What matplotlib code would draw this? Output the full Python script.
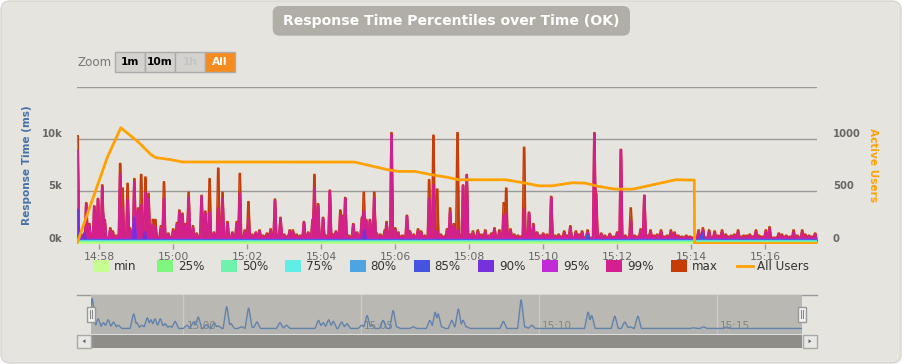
from datetime import datetime

import numpy as np
import matplotlib
matplotlib.use("Agg")
from matplotlib import pyplot as plt
import matplotlib.dates as mdates
from matplotlib.patches import Rectangle, FancyBboxPatch, Polygon
from matplotlib.transforms import blended_transform_factory, ScaledTranslation

# ---- data (seconds after 14:57:24, response times in ms) ----
start_time = datetime(2024, 1, 1, 14, 57, 24)
duration = 1200

series_names = ["min", "25%", "50%", "75%", "80%", "85%", "90%", "95%", "99%", "max"]
series_colors = ["#c4fd90", "#7ff77f", "#6ff2ad", "#61ede6", "#4ea3e3",
                 "#4254e0", "#7531dc", "#c22ad5", "#d41f8e", "#c53c06"]

spike_sec = [1, 15, 20, 28, 34, 41, 45, 54, 58, 70, 74, 82, 86, 93, 99, 104, 111, 116,
             123, 127, 136, 141, 148, 156, 162, 166, 171, 176, 181, 188, 194, 202, 208,
             215, 222, 229, 236, 244, 252, 259, 264, 272, 278, 290, 296, 314, 321, 330,
             345, 350, 368, 375, 382, 385, 391, 399, 410, 420, 427, 430, 435, 448, 454,
             462, 465, 469, 475, 482, 486, 499, 502, 510, 516, 521, 535, 540, 553, 558,
             571, 578, 584, 600, 605, 611, 617, 626, 632, 642, 650, 662, 677, 685, 692,
             696, 703, 725, 733, 740, 746, 756, 769, 790, 800, 809, 819, 828, 839, 842,
             850, 864, 876, 882, 889, 898, 914, 920, 930, 947, 963, 969, 1008, 1015,
             1025, 1034, 1046, 1061, 1072, 1086, 1101, 1117, 1123, 1138, 1150, 1162,
             1176, 1187, 1197]
spike_max = [10300, 3900, 1900, 3600, 4300, 5600, 2300, 1500, 1200, 7650, 5300, 5750,
             1500, 6200, 3400, 6600, 6350, 4800, 2300, 2300, 1700, 5900, 1000, 1400, 2000,
             3200, 2900, 1900, 4900, 1700, 1000, 4600, 3100, 6200, 1100, 7200, 4900, 2100,
             1100, 2100, 6700, 1300, 4000, 1100, 1300, 1400, 4250, 2500, 1300, 1300, 2100,
             1100, 2300, 6600, 3800, 2500, 5100, 1200, 3200, 2700, 4400, 1900, 1100, 2500,
             4900, 2300, 2300, 4900, 1000, 1300, 2100, 10600, 1500, 1100, 2700, 1200, 1400,
             1200, 6100, 10350, 5200, 1400, 3400, 1900, 10600, 5600, 6600, 1200, 1300,
             1300, 1500, 1300, 3900, 5300, 1400, 9200, 3000, 1900, 1100, 1000, 4500, 1200,
             1700, 1200, 1200, 1300, 10600, 4800, 1000, 960, 1100, 9000, 800, 3400, 1400,
             4600, 1300, 1300, 1300, 1100, 1300, 1500, 1300, 1200, 1300, 800, 1300, 800,
             1300, 1300, 1600, 1000, 800, 1300, 1300, 800, 1000]
spike_p99 = [8900, 3700, 1700, 3500, 4200, 5400, 2100, 1300, 1000, 6600, 3400, 4200,
             1300, 5900, 3200, 3700, 4900, 4300, 1800, 1600, 1400, 4300, 900, 1200, 1800,
             3000, 2700, 1700, 4400, 1500, 900, 4500, 2900, 3000, 1000, 3400, 4300, 1900,
             1000, 1900, 4800, 1100, 2300, 1000, 1200, 1200, 4100, 2400, 1200, 1100, 2000,
             1000, 2200, 5300, 3600, 2400, 5000, 1100, 2700, 2600, 4300, 1800, 1000, 2300,
             3100, 2200, 2200, 4300, 900, 1100, 1900, 10400, 1300, 1000, 2600, 1000, 1200,
             1000, 4300, 5600, 1200, 1200, 3000, 1700, 1300, 5500, 6500, 1000, 1100,
             1100, 1400, 1100, 2700, 2900, 1200, 3300, 2900, 1700, 1000, 900, 4400, 1000,
             1500, 1000, 1000, 1100, 10500, 3300, 900, 850, 1000, 8950, 700, 2200, 1200,
             4600, 1100, 1100, 1100, 1000, 1100, 1300, 1100, 1000, 1100, 700, 1100, 700,
             1100, 1100, 1400, 900, 700, 1100, 1100, 700, 900]

# small bumps along the bottom band
small_sec = [7, 64, 284, 302, 308, 326, 336, 340, 356, 362, 404, 415, 441, 458, 492, 528,
             546, 564, 590, 595, 621, 637, 646, 656, 668, 672, 709, 715, 720, 751, 762, 775,
             781, 786, 795, 814, 856, 870, 904, 909, 925, 936, 941, 952, 957, 975, 981, 988,
             994, 1040, 1052, 1056, 1066, 1078, 1081, 1091, 1096, 1106, 1111, 1143, 1156,
             1168, 1181, 1192]
small_max = [900, 800, 900, 800, 1000, 800, 900, 700, 900, 800, 800, 900, 800, 800, 900, 800,
             900, 800, 900, 700, 800, 900, 700, 900, 800, 1000, 900, 800, 700, 800, 900, 800,
             900, 700, 800, 900, 800, 700, 800, 700, 800, 800, 900, 700, 800, 800, 700, 800,
             700, 800, 900, 700, 900, 700, 800, 900, 700, 800, 700, 900, 700, 800, 900, 700]
small_p99 = [750, 650, 750, 650, 850, 650, 750, 600, 750, 650, 650, 750, 650, 650, 750, 650,
             750, 650, 750, 600, 650, 750, 600, 750, 650, 850, 750, 650, 600, 650, 750, 650,
             750, 600, 650, 750, 650, 600, 650, 600, 650, 650, 750, 600, 650, 650, 600, 650,
             600, 650, 750, 600, 750, 600, 650, 750, 600, 650, 600, 750, 600, 650, 750, 600]
max_base, p99_base = 600, 520

p95_base, p95_sec, p95_val = 420, [1, 93], [3300, 2600]
p90_base = 380
p90_sec = [1, 12, 93, 110, 466, 1014]
p90_val = [3200, 1000, 2500, 1100, 1300, 1000]
p85_base, p85_sec, p85_val = 330, [1, 828, 1014], [800, 800, 900]
low_levels = {"80%": 290, "75%": 240, "50%": 170, "25%": 130, "min": 60}

users_sec = [0, 49, 71, 98, 120, 128, 152, 171, 450, 504, 521, 548, 575, 602, 619, 695,
             727, 749, 770, 803, 824, 846, 873, 901, 971, 1001, 1001.5, 1200]
users = [0, 820, 1106, 977, 849, 820, 801, 779, 778, 705, 689, 689, 657, 631, 609, 609,
         577, 551, 551, 580, 577, 545, 519, 519, 609, 606, 0, 0]

nav_base = 200
nav_sec = [2, 12, 21, 29, 38, 46, 72, 77, 86, 95, 101, 108, 117, 125, 133, 142, 162, 173,
           181, 195, 208, 215, 229, 236, 254, 266, 271, 280, 319, 330, 384, 392, 401, 409,
           423, 432, 457, 466, 474, 493, 510, 516, 544, 572, 581, 586, 592, 609, 620, 628,
           634, 696, 726, 733, 744, 839, 845, 884, 901, 910, 923, 1017, 1034, 1073]
nav_val = [1272, 548, 408, 513, 432, 315, 723, 408, 315, 583, 513, 548, 548, 373, 280, 455,
           315, 432, 607, 338, 397, 292, 980, 373, 257, 933, 257, 432, 408, 315, 490, 408,
           513, 455, 432, 373, 315, 665, 315, 490, 840, 257, 257, 490, 782, 723, 257, 490,
           898, 490, 257, 455, 1225, 257, 315, 782, 665, 642, 432, 257, 642, 222, 257, 257]

title = "Response Time Percentiles over Time (OK)"
zoom_buttons = ["1m", "10m", "1h", "All"]

# ---- figure ----
W, H = 902, 364
BG = "#e5e4df"
fig = plt.figure(figsize=(W / 100, H / 100), dpi=100)
fig.patch.set_facecolor("white")


def fig_rect(x0, y0, x1, y1):
    return [x0 / W, 1 - y1 / H, (x1 - x0) / W, (y1 - y0) / H]


def to_num(sec):
    return mdates.date2num(start_time) + np.asarray(sec, dtype=float) / 86400.0


grid_sec = np.arange(duration + 1)


def spiky(base, secs, vals, top=1, foot=3):
    # each reading becomes a narrow peak: flat top of +-top s, back to base at +-foot s
    v = np.full(grid_sec.shape, float(base))
    for s, p in zip(secs, vals):
        shape = np.interp(grid_sec, [s - foot, s - top, s + top, s + foot],
                          [base, p, p, base], left=base, right=base)
        v = np.maximum(v, shape)
    return v


# background layer
bg = fig.add_axes([0, 0, 1, 1], zorder=-10)
bg.set_xlim(0, W)
bg.set_ylim(H, 0)
bg.axis("off")
bg.add_patch(FancyBboxPatch((1, 1), W - 2, H - 2, boxstyle="round,pad=0,rounding_size=9",
                            fc=BG, ec="#d6d5d0", lw=1))
bg.plot([77, 817], [294.5, 294.5], color="#9a9a9a", lw=1)
bg.add_patch(Rectangle((91, 334.5), 711, 13.5, fc="#8f8d88", ec="none"))
for bx, tri in ((77, [(82.5, 341.2), (85.5, 339.2), (85.5, 343.2)]),
                (803, [(811.5, 341.2), (808.5, 339.2), (808.5, 343.2)])):
    bg.add_patch(Rectangle((bx, 334.5), 13.5, 13.5, fc="#e8e8e6", ec="#a8a8a8", lw=1))
    bg.add_patch(Polygon(tri, closed=True, fc="#666666", ec="none"))

# main chart
t = to_num(grid_sec)
values = {
    "max": spiky(max_base, spike_sec + small_sec, spike_max + small_max),
    "99%": spiky(p99_base, spike_sec + small_sec, spike_p99 + small_p99),
    "95%": spiky(p95_base, p95_sec, p95_val),
    "90%": spiky(p90_base, p90_sec, p90_val),
    "85%": spiky(p85_base, p85_sec, p85_val),
}
for name, lvl in low_levels.items():
    values[name] = np.full(grid_sec.shape, float(lvl))

ax = fig.add_axes(fig_rect(77, 86.5, 817, 243.5), zorder=1)
ax.set_facecolor("none")
for sp in ax.spines.values():
    sp.set_visible(False)
for level in (5000, 10000, 15000):
    ax.axhline(level, color="#9a9a9a", lw=1, zorder=0)

for z, (name, color) in enumerate(zip(series_names[::-1], series_colors[::-1])):
    ax.fill_between(t, 0, values[name], color=color, alpha=0.95, lw=0, zorder=2 + z)
    ax.plot(t, values[name], color=color, lw=1, zorder=2 + z)

ax.set_xlim(t[0], t[-1])
ax.set_ylim(0, 15000)
ax.xaxis.set_major_locator(mdates.MinuteLocator(byminute=range(0, 60, 2)))
ax.xaxis.set_major_formatter(mdates.DateFormatter("%H:%M"))
ax.tick_params(axis="x", length=3.6, width=1, color="#999999", labelsize=7.8,
               labelcolor="#666666", pad=2.5)
ax.set_yticks([0, 5000, 10000], ["0k", "5k", "10k"])
ax.tick_params(axis="y", length=0, pad=10.6, labelsize=7.2, labelcolor="#666666")
for lbl in ax.get_yticklabels():
    lbl.set_fontweight("bold")
    lbl.set_verticalalignment("bottom")

ax2 = ax.twinx()
for sp in ax2.spines.values():
    sp.set_visible(False)
ax2.plot(to_num(users_sec), users, color="#ffa200", lw=2, zorder=5)
ax2.set_ylim(0, 1500)
ax2.set_yticks([0, 500, 1000], ["0", "500", "1000"])
ax2.tick_params(axis="y", length=0, pad=11.3, labelsize=7.2, labelcolor="#666666")
for lbl in ax2.get_yticklabels():
    lbl.set_fontweight("bold")
    lbl.set_verticalalignment("bottom")

fig.text(27 / W, 1 - 165 / H, "Response Time (ms)", rotation=90, ha="center", va="center",
         color="#4572A7", fontweight="bold", fontsize=7.6)
fig.text(873.5 / W, 1 - 165 / H, "Active Users", rotation=270, ha="center", va="center",
         color="#ffa200", fontweight="bold", fontsize=7.6)

# navigator
nav = fig.add_axes(fig_rect(91, 295, 802, 334), zorder=1)
nav.set_facecolor("#bab8b2")
for sp in nav.spines.values():
    sp.set_visible(False)
nav.set_xticks([])
nav.set_yticks([])
nav.set_xlim(t[0], t[-1])
nav.set_ylim(0, 1400)
nav_loc = mdates.MinuteLocator(byminute=range(0, 60, 5))
trans = blended_transform_factory(nav.transData, nav.transAxes)
for tick in nav_loc.tick_values(mdates.num2date(t[0]), mdates.num2date(t[-1])):
    if t[0] < tick < t[-1]:
        nav.axvline(tick, color="#cdcbc5", lw=1, zorder=0)
        nav.text(tick, 0.21, mdates.num2date(tick).strftime("%H:%M"), ha="left", va="center",
                 fontsize=7.5, color="#858380", zorder=1,
                 transform=trans + ScaledTranslation(3 / 100, 0, fig.dpi_scale_trans))
nav_line = spiky(nav_base, nav_sec, nav_val, top=0.5, foot=6)
nav.fill_between(t, 0, nav_line, color="#4572A7", alpha=0.06, lw=0, zorder=2)
nav.plot(t, nav_line, color="#6383ab", lw=1, zorder=3)

# overlay: title, zoom buttons, legend, handles
top = fig.add_axes([0, 0, 1, 1], zorder=10)
top.set_xlim(0, W)
top.set_ylim(H, 0)
top.axis("off")

top.add_patch(FancyBboxPatch((272.7, 6), 357.3, 29.7, boxstyle="round,pad=0,rounding_size=7",
                             fc="#b0aea7", ec="none"))
top.text(451, 21, title, ha="center", va="center", color="white", fontweight="bold",
         fontsize=10.1)

top.text(77, 62.5, "Zoom", ha="left", va="center", color="#777777", fontsize=8.6)
for i, label in enumerate(zoom_buttons):
    x0 = 115 + i * 30
    active = label == "All"
    disabled = label == "1h"
    top.add_patch(Rectangle((x0, 51.7), 30, 20, fc="#f68b1f" if active else "#d3d2ce",
                            ec="#ababab", lw=1))
    top.text(x0 + 15, 62, label, ha="center", va="center", fontweight="bold", fontsize=7.7,
             color="white" if active else ("#c4c4c4" if disabled else "black"))

for i, (name, color) in enumerate(zip(series_names, series_colors)):
    x0 = 92.7 + i * 64.2
    top.add_patch(Rectangle((x0, 259.5), 16, 12, fc=color, ec="none"))
    top.text(x0 + 21, 266, name, ha="left", va="center", fontsize=8.6, color="#333333")
top.plot([736.7, 752.7], [266, 266], color="#ffa200", lw=2)
top.text(757.3, 266, "All Users", ha="left", va="center", fontsize=8.6, color="#333333")

for hx in (91, 802):
    top.add_patch(Rectangle((hx - 4, 306.5), 8, 15, fc="#f2f2f2", ec="#999999", lw=1))
    top.plot([hx - 1.2, hx - 1.2], [310, 318], color="#888888", lw=0.8)
    top.plot([hx + 1.2, hx + 1.2], [310, 318], color="#888888", lw=0.8)

fig.savefig("out.png", dpi=100)
